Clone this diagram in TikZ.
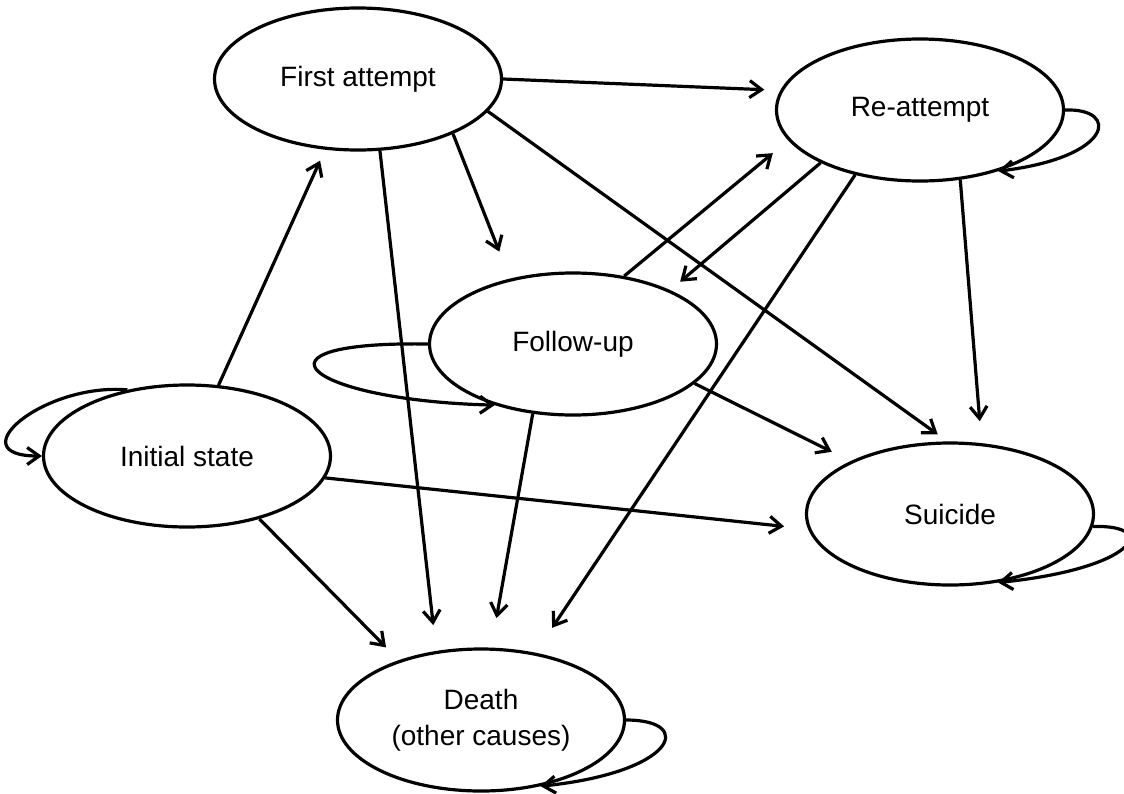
\documentclass[tikz,border=0pt]{standalone}
\usepackage{fontspec}
\setmainfont{Liberation Sans}
\usepackage{tikz}
\usetikzlibrary{arrows.meta,shapes.geometric}

\tikzset{
  state/.style={ellipse,draw,line width=3.2pt,minimum width=287pt,
    minimum height=142pt,inner sep=0pt,align=center,
    font=\fontsize{28}{36}\selectfont},
  trans/.style={line width=3.2pt,-{Straight Barb[length=12pt,width=17pt]}},
}

\begin{document}
\begin{tikzpicture}[x=1pt,y=-1pt]
  \useasboundingbox (0,0) rectangle (1124,793);
  % states
  \node[state] (init)  at (187,456) {Initial state};
  \node[state] (first) at (358,79)  {First attempt};
  \node[state] (reatt) at (920,110) {Re-attempt};
  \node[state] (fup)   at (573,344) {Follow-up};
  \node[state] (suic)  at (950,514) {Suicide};
  \node[state] (death) at (481,720) {Death\\(other causes)};
  % transitions
  \draw[trans,shorten >=12pt] (init.66) -- (first.245);
  \draw[trans,shorten >=16pt] (first.0) -- (reatt.172);
  \draw[trans,shorten >=29pt] (first.-30) -- (fup.134);
  \draw[trans,shorten >=26pt] (first.287) -- (death.123);
  \draw[trans,shorten >=12pt] (first.-14) -- (suic.92);
  \draw[trans,shorten >=20pt] (fup.53) -- (reatt.193);
  \draw[trans,shorten >=13pt] (reatt.208) -- (fup.29);
  \draw[trans,shorten >=21pt] (fup.-18) -- (suic.152);
  \draw[trans,shorten >=30pt] (fup.240) -- (death.82);
  \draw[trans,shorten >=22pt] (reatt.-60) -- (suic.66);
  \draw[trans,shorten >=30pt] (reatt.225) -- (death.51);
  \draw[trans,shorten >=18pt] (init.-41) -- (death.144);
  \draw[trans,shorten >=24pt] (init.-9) -- (suic.186);
  % self loops
  \draw[trans] (init.132) .. controls +(-85,-7) and +(-84,0) .. (init.180);
  \draw[trans] (fup.180) .. controls +(-190,-3) and +(-190,-5) .. (fup.218);
  \draw[trans] (reatt.0) .. controls +(55,-2) and +(115,-14) .. (reatt.-38);
  \draw[trans] (suic.-5) .. controls +(68,-2) and +(138,-14) .. (suic.-55);
  \draw[trans] (death.0) .. controls +(70,0) and +(135,-14) .. (death.-48);
\end{tikzpicture}
\end{document}
